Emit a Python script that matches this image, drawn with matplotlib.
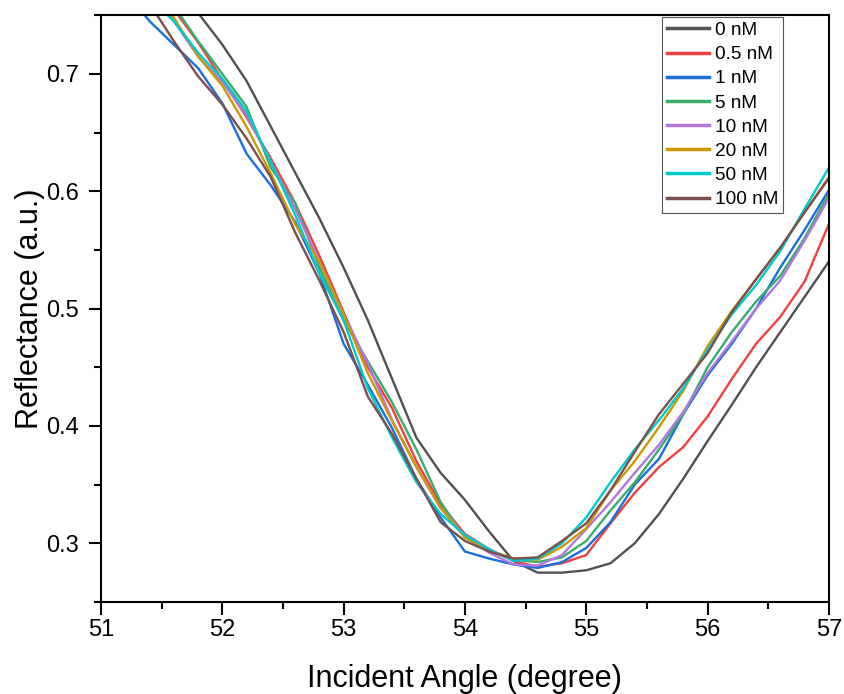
import matplotlib
matplotlib.use("Agg")
import matplotlib.pyplot as plt
import numpy as np
from matplotlib.ticker import MultipleLocator

plt.rcParams['font.family'] = ['Liberation Sans', 'DejaVu Sans']

# incident angle (degree)
angle = np.round(np.arange(51.0, 57.01, 0.2), 1)

# reflectance curves for each concentration
r_0nM = [0.84, 0.82, 0.80, 0.78, 0.752, 0.725, 0.694, 0.655, 0.616, 0.577, 0.535,
         0.49, 0.44, 0.39, 0.36, 0.337, 0.31, 0.285, 0.275, 0.275, 0.277,
         0.283, 0.30, 0.325, 0.355, 0.387, 0.418, 0.45, 0.48, 0.51, 0.54]
r_05nM = [0.83, 0.81, 0.78, 0.755, 0.727, 0.695, 0.663, 0.628, 0.59, 0.545, 0.497,
          0.45, 0.415, 0.37, 0.333, 0.308, 0.295, 0.285, 0.28, 0.283, 0.29,
          0.317, 0.343, 0.365, 0.382, 0.408, 0.44, 0.47, 0.493, 0.523, 0.572]
r_1nM = [0.80, 0.77, 0.745, 0.725, 0.705, 0.675, 0.632, 0.605, 0.574, 0.53, 0.47,
         0.435, 0.398, 0.355, 0.322, 0.293, 0.287, 0.282, 0.279, 0.284, 0.296,
         0.318, 0.35, 0.372, 0.41, 0.443, 0.47, 0.50, 0.535, 0.567, 0.601]
r_5nM = [0.83, 0.81, 0.785, 0.758, 0.728, 0.70, 0.672, 0.62, 0.59, 0.535, 0.49,
         0.455, 0.42, 0.38, 0.335, 0.305, 0.294, 0.286, 0.284, 0.288, 0.302,
         0.328, 0.352, 0.38, 0.41, 0.45, 0.48, 0.506, 0.528, 0.56, 0.598]
r_10nM = [0.82, 0.80, 0.775, 0.745, 0.715, 0.693, 0.665, 0.625, 0.585, 0.54, 0.495,
          0.453, 0.405, 0.365, 0.33, 0.307, 0.292, 0.282, 0.281, 0.29, 0.312,
          0.335, 0.36, 0.384, 0.412, 0.445, 0.472, 0.50, 0.524, 0.558, 0.594]
r_20nM = [0.82, 0.80, 0.775, 0.748, 0.715, 0.69, 0.655, 0.615, 0.572, 0.54, 0.495,
          0.445, 0.404, 0.365, 0.33, 0.305, 0.294, 0.287, 0.286, 0.297, 0.313,
          0.345, 0.37, 0.399, 0.43, 0.468, 0.498, 0.525, 0.552, 0.582, 0.612]
r_50nM = [0.81, 0.79, 0.765, 0.745, 0.718, 0.696, 0.668, 0.625, 0.58, 0.53, 0.49,
          0.432, 0.39, 0.352, 0.325, 0.307, 0.295, 0.285, 0.287, 0.30, 0.322,
          0.352, 0.38, 0.405, 0.432, 0.465, 0.495, 0.52, 0.549, 0.585, 0.62]
r_100nM = [0.80, 0.78, 0.76, 0.728, 0.698, 0.674, 0.645, 0.612, 0.565, 0.524, 0.48,
           0.425, 0.393, 0.355, 0.318, 0.302, 0.293, 0.287, 0.288, 0.302, 0.317,
           0.345, 0.378, 0.41, 0.436, 0.462, 0.497, 0.525, 0.552, 0.582, 0.611]

labels = ['0 nM', '0.5 nM', '1 nM', '5 nM', '10 nM', '20 nM', '50 nM', '100 nM']
colors = ['#515151', '#F14040', '#1A6FDF', '#37AD6B', '#B177DE', '#CC9900', '#00CBCC', '#7D4E4E']
curves = [r_0nM, r_05nM, r_1nM, r_5nM, r_10nM, r_20nM, r_50nM, r_100nM]

fig = plt.figure(figsize=(8.44, 6.94), dpi=100)
ax = fig.add_axes([0.1197, 0.1326, 0.8623, 0.8454])

for y, lab, c in zip(curves, labels, colors):
    ax.plot(angle, y, color=c, lw=1.7, label=lab)

ax.set_xlim(51, 57)
ax.set_ylim(0.25, 0.75)
ax.xaxis.set_major_locator(MultipleLocator(1))
ax.xaxis.set_minor_locator(MultipleLocator(0.5))
ax.yaxis.set_minor_locator(MultipleLocator(0.05))
ax.set_yticks([0.3, 0.4, 0.5, 0.6, 0.7])
ax.tick_params(which='major', direction='out', length=9, width=1.5, labelsize=17)
ax.tick_params(which='minor', direction='out', length=5, width=1.5)
ax.tick_params(axis='x', which='major', pad=3)
ax.tick_params(axis='y', which='major', pad=7)
ax.tick_params(top=False, right=False, which='both')
for s in ax.spines.values():
    s.set_linewidth(1.5)

ax.set_xlabel('Incident Angle (degree)', fontsize=22, labelpad=17)
ax.set_ylabel('Reflectance (a.u.)', fontsize=22, labelpad=1)

leg = ax.legend(loc='upper right', bbox_to_anchor=(0.937, 0.997), fontsize=13.7,
                handlelength=2.2, handletextpad=0.3, labelspacing=0.36,
                borderpad=0.25, borderaxespad=0, fancybox=False, framealpha=1)
leg.get_frame().set_edgecolor('#555555')
leg.get_frame().set_linewidth(0.8)
for line in leg.get_lines():
    line.set_linewidth(2.5)

fig.savefig('out.png', dpi=100)
